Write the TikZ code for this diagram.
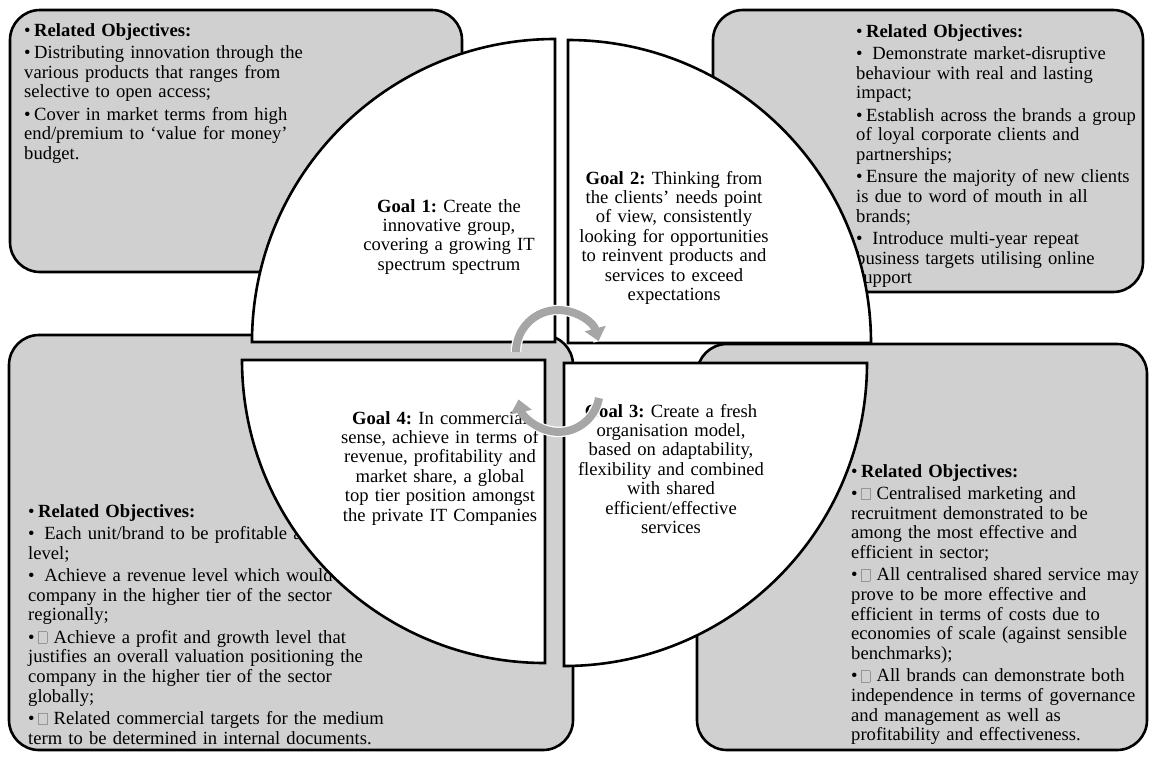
\documentclass[tikz,border=0pt]{standalone}
\usepackage{fontspec}
\setmainfont{Liberation Serif}
\usetikzlibrary{arrows.meta}

\definecolor{boxgray}{RGB}{208,208,208}
\definecolor{arrowgray}{RGB}{166,166,166}
\definecolor{tofugray}{RGB}{150,150,150}

\newlength{\bind}\setlength{\bind}{10pt}
\newcommand{\bhead}[1]{\noindent\makebox[\bind][l]{\textbullet}\textbf{#1}}
\newcommand{\bitem}[1]{\par\vskip 2.6pt\hangindent=\bind\hangafter=1\noindent\makebox[\bind][l]{\textbullet}#1}
\newcommand{\tofu}{{\color{tofugray}\fboxsep=0pt\fboxrule=0.6pt\fbox{\rule{0pt}{11pt}\hspace{8pt}}}}
\frenchspacing

\begin{document}
\begin{tikzpicture}[x=1pt,y=-1pt,
  objbox/.style={draw=black,line width=2.6pt,fill=boxgray,rounded corners=30pt},
  goalpie/.style={draw=black,line width=2.6pt,fill=white,line join=miter},
  objtext/.style={anchor=base west,inner sep=0pt,align=left,text width=#1,font=\fontsize{18.6}{19.7}\selectfont\frenchspacing},
  goaltext/.style={anchor=base,inner sep=0pt,align=center,text width=230pt,font=\fontsize{18.6}{19.4}\selectfont\frenchspacing},
  cyclearrow/.style={draw=arrowgray,line width=8pt,-{Triangle[width=21pt,length=13pt]},
    preaction={draw=white,line width=10.5pt,arrows=-}}]
\useasboundingbox (0,0) rectangle (1150,756);

% objective boxes
\draw[objbox] (10,10) rectangle (462,272);
\draw[objbox] (713,10) rectangle (1143,292);
\draw[objbox] (9,335) rectangle (573,750);
\draw[objbox] (697,344) rectangle (1147,750);

\node[objtext=430pt] (obj1) at (24,36) {%
\bhead{Related Objectives:}
\bitem{Distributing innovation through the\\ various products that ranges from\\ selective to open access;}
\bitem{Cover in market terms from high\\ end/premium to ‘value for money’\\ budget.}};

\node[objtext=290pt] (obj2) at (856,37) {%
\bhead{Related Objectives:}
\bitem{\ Demonstrate market-disruptive\\ behaviour with real and lasting\\ impact;}
\bitem{Establish across the brands a group\\ of loyal corporate clients and\\ partnerships;}
\bitem{Ensure the majority of new clients\\ is due to word of mouth in all\\ brands;}
\bitem{\ Introduce multi-year repeat\\ business targets utilising online\\ support}};

\node[objtext=520pt] (obj4) at (28,517) {%
\bhead{Related Objectives:}
\bitem{\ Each unit/brand to be profitable at\\ level;}
\bitem{\ Achieve a revenue level which would b\\ company in the higher tier of the sector\\ regionally;}
\bitem{\tofu\ Achieve a profit and growth level that\\ justifies an overall valuation positioning the\\ company in the higher tier of the sector\\ globally;}
\bitem{\tofu\ Related commercial targets for the medium\\ term to be determined in internal documents.}};

\node[objtext=295pt] (obj3) at (851,477) {%
\bhead{Related Objectives:}
\bitem{\tofu\ Centralised marketing and\\ recruitment demonstrated to be\\ among the most effective and\\ efficient in sector;}
\bitem{\tofu\ All centralised shared service may\\ prove to be more effective and\\ efficient in terms of costs due to\\ economies of scale (against sensible\\ benchmarks);}
\bitem{\tofu\ All brands can demonstrate both\\ independence in terms of governance\\ and management as well as\\ profitability and effectiveness.}};

% the four goals
\draw[goalpie] (555,342) -- (252,342) arc[start angle=180,end angle=270,radius=303] -- cycle;
\draw[goalpie] (568,343) -- (568,40) arc[start angle=270,end angle=360,radius=303] -- cycle;
\draw[goalpie] (545,360) -- (242,360) arc[start angle=180,end angle=90,radius=303] -- cycle;
\draw[goalpie] (564,363) -- (867,363) arc[start angle=0,end angle=90,radius=303] -- cycle;

\node[goaltext] (goal1) at (449,212) {\textbf{Goal 1:} Create the\\ innovative group,\\ covering a growing IT\\ spectrum spectrum};
\node[goaltext] (goal2) at (674,184) {\textbf{Goal 2:} Thinking from\\ the clients’ needs point\\ of view, consistently\\ looking for opportunities\\ to reinvent products and\\ services to exceed\\ expectations};
\node[goaltext] (goal4) at (440,424) {\textbf{Goal 4:} In commercial\\ sense, achieve in terms of\\ revenue, profitability and\\ market share, a global\\ top tier position amongst\\ the private IT Companies};
\node[goaltext] (goal3) at (671,417) {\textbf{Goal 3:} Create a fresh\\ organisation model,\\ based on adaptability,\\ flexibility and combined\\ with shared\\ efficient/effective\\ services};

% cycle arrows
\draw[cyclearrow] (516,352) arc[start angle=180,end angle=345,radius=42];
\draw[cyclearrow] (599,398) arc[start angle=10,end angle=168,radius=41];
\end{tikzpicture}
\end{document}
